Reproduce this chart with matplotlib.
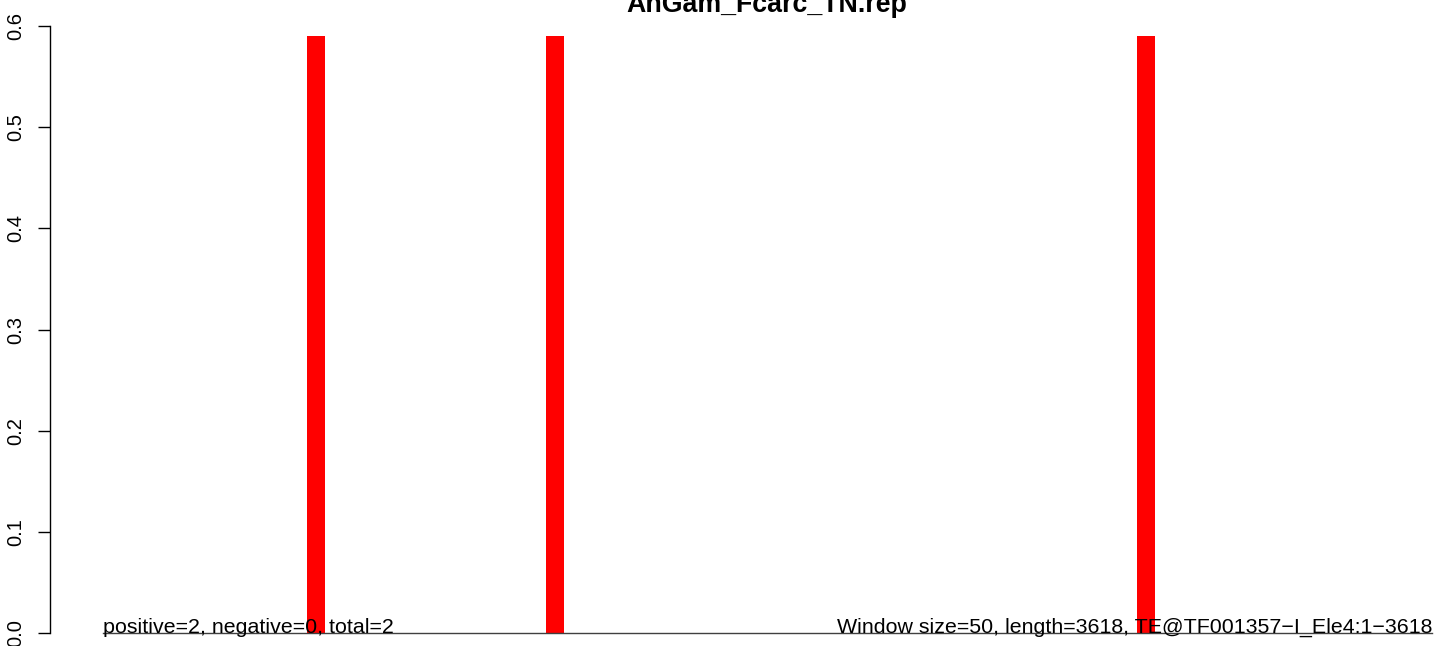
import matplotlib
matplotlib.use("Agg")
import matplotlib.pyplot as plt

title = "AnGam_Fcarc_TN.rep"
seq_length = 3618
window = 50
bar_centers = [580, 1231, 2840]
bar_values = [0.59, 0.59, 0.59]
yticks = [0.0, 0.1, 0.2, 0.3, 0.4, 0.5, 0.6]
left_note = "positive=2, negative=0, total=2"
right_note = "Window size=50, length=3618, TE@TF001357\u2212I_Ele4:1\u22123618"

plt.rcParams['font.family'] = ['Liberation Sans', 'DejaVu Sans']

W, H = 1444, 646
fig = plt.figure(figsize=(W / 100, H / 100), dpi=100)
x0, x1 = 103, 1432
ytop, ybot = 26, 633
ax = fig.add_axes([x0 / W, (H - ybot) / H, (x1 - x0) / W, (ybot - ytop) / H])
ax.set_xlim(0, seq_length)
ax.set_ylim(0, 0.6)

ax.bar(bar_centers, bar_values, width=window * 0.98, color='#FF0000', clip_on=False)
ax.plot([0, seq_length], [0, 0], color='#404040', lw=1, clip_on=False)

for s in ['top', 'right', 'bottom']:
    ax.spines[s].set_visible(False)
ax.spines['left'].set_position(('outward', (x0 - 50) * 0.72))
ax.spines['left'].set_bounds(0, 0.6)
ax.spines['left'].set_linewidth(1.0)
ax.set_xticks([])
ax.set_yticks(yticks)
ax.set_yticklabels([f"{v:.1f}" for v in yticks], rotation=90, va='center', fontsize=14.5)
ax.tick_params(axis='y', length=8.6, width=1.0, pad=9)

ax.text(0, 0, left_note, ha='left', va='baseline', fontsize=15.4)
ax.text(seq_length, 0, right_note, ha='right', va='baseline', fontsize=15.4)

fig.text(767 / W, 1 - 12 / H, title, ha='center', va='baseline', fontsize=19.3, fontweight='bold')

fig.savefig("out.png", dpi=100)
